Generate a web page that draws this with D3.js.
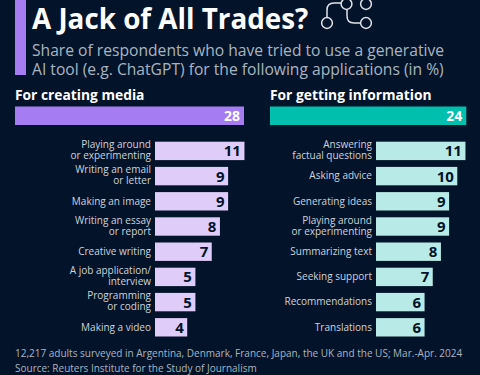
<!DOCTYPE html>
<html>
<head>
<meta charset="utf-8">
<script src="https://cdn.jsdelivr.net/npm/d3@7"></script>
<style>
    html, body { margin: 0; padding: 0; background: #03142a; }
    svg { display: block; }
    text { font-family: "Open Sans", sans-serif; }
</style>
</head>
<body>
<svg id="chart" width="480" height="375"></svg>
<script>
// Data
var mediaLabels = [
    ["Playing around", "or experimenting"],
    ["Writing an email", "or letter"],
    ["Making an image"],
    ["Writing an essay", "or report"],
    ["Creative writing"],
    ["A job application/", "interview"],
    ["Programming", "or coding"],
    ["Making a video"]
];
var mediaValues = [11, 9, 9, 8, 7, 5, 5, 4];
var mediaTotal = 28;

var infoLabels = [
    ["Answering", "factual questions"],
    ["Asking advice"],
    ["Generating ideas"],
    ["Playing around", "or experimenting"],
    ["Summarizing text"],
    ["Seeking support"],
    ["Recommendations"],
    ["Translations"]
];
var infoValues = [11, 10, 9, 9, 8, 7, 6, 6];
var infoTotal = 24;

var titleText = "A Jack of All Trades?";
var subtitleLines = [
    "Share of respondents who have tried to use a generative",
    "AI tool (e.g. ChatGPT) for the following applications (in %)"
];
var footerLines = [
    "12,217 adults surveyed in Argentina, Denmark, France, Japan, the UK and the US; Mar.-Apr. 2024",
    "Source: Reuters Institute for the Study of Journalism"
];

var svg = d3.select("#chart");
var ink = "#03142a";

// Header
svg.append("rect")
    .attr("x", 15).attr("y", 0).attr("width", 11).attr("height", 75)
    .attr("fill", "#a67cf2");

svg.append("text").text(titleText)
    .attr("x", 32).attr("y", 28.5)
    .attr("fill", "#ffffff")
    .style("font-size", "27.8px").style("font-weight", 700);

svg.selectAll(".subtitle").data(subtitleLines).enter().append("text")
    .attr("class", "subtitle")
    .attr("x", 32)
    .attr("y", (d, i) => 56 + i * 19.4)
    .attr("fill", "#a9b4c0")
    .style("font-size", "15.65px")
    .text(d => d);

// Network icon next to the title
var icon = svg.append("g").attr("fill", "none").attr("stroke", "#dfe3e8").attr("stroke-width", 1.5);
icon.append("path").attr("d", "M327 17.5 V10 Q327 3 334 3 H341");
icon.append("path").attr("d", "M347 9.5 V16 Q347 23 354 23 H360.5");
[[327, 23], [346.5, 4], [366, 4], [366, 23]].forEach(c => {
    icon.append("circle").attr("cx", c[0]).attr("cy", c[1]).attr("r", 5.4);
});

// One panel: heading, total bar and the eight rows
function drawPanel(opts) {
    var x = d3.scaleLinear().domain([0, 28]).range([0, 229]);
    var y = d3.scaleBand()
        .domain(d3.range(opts.values.length))
        .range([141.7, 336.5])
        .paddingInner(0.27).paddingOuter(0);

    var g = svg.append("g");

    g.append("text").text(opts.heading)
        .attr("x", opts.left).attr("y", 100)
        .attr("fill", "#ffffff")
        .style("font-size", "13.8px").style("font-weight", 700);

    g.append("rect")
        .attr("x", opts.left).attr("y", 106.5)
        .attr("width", x(opts.total)).attr("height", 18.5)
        .attr("fill", opts.strong);

    g.append("text").text(opts.total)
        .attr("x", opts.left + x(opts.total) - 4).attr("y", 121)
        .attr("text-anchor", "end")
        .attr("fill", "#ffffff")
        .style("font-size", "14px").style("font-weight", 700);

    var rows = g.selectAll(".row").data(opts.values).enter().append("g")
        .attr("class", "row")
        .attr("transform", (d, i) => "translate(0," + y(i) + ")");

    rows.append("rect")
        .attr("x", opts.barLeft)
        .attr("width", d => x(d) - 0.5)
        .attr("height", y.bandwidth())
        .attr("fill", opts.light);

    rows.append("text").text(d => d)
        .attr("x", d => opts.barLeft + x(d) - 4)
        .attr("y", 14.6)
        .attr("text-anchor", "end")
        .attr("fill", ink)
        .style("font-size", "15px").style("font-weight", 700);

    rows.each(function (d, i) {
        var lines = opts.labels[i];
        d3.select(this).selectAll(".lab").data(lines).enter().append("text")
            .attr("class", "lab")
            .attr("x", opts.barLeft - 4)
            .attr("y", (l, k) => lines.length == 1 ? 12.6 : 6.4 + k * 11.2)
            .attr("text-anchor", "end")
            .attr("fill", "#ccd3da")
            .style("font-size", "10px")
            .text(l => l);
    });
}

drawPanel({
    heading: "For creating media", left: 15, barLeft: 155,
    total: mediaTotal, values: mediaValues, labels: mediaLabels,
    strong: "#a67cf2", light: "#e0ccf8"
});
drawPanel({
    heading: "For getting information", left: 270, barLeft: 376,
    total: infoTotal, values: infoValues, labels: infoLabels,
    strong: "#00bfad", light: "#b8ebe7"
});

// Footer
svg.selectAll(".foot").data(footerLines).enter().append("text")
    .attr("class", "foot")
    .attr("x", 15)
    .attr("y", (d, i) => 357 + i * 15)
    .attr("fill", "#a9b4c0")
    .style("font-size", "10px")
    .text(d => d);
</script>
</body>
</html>
